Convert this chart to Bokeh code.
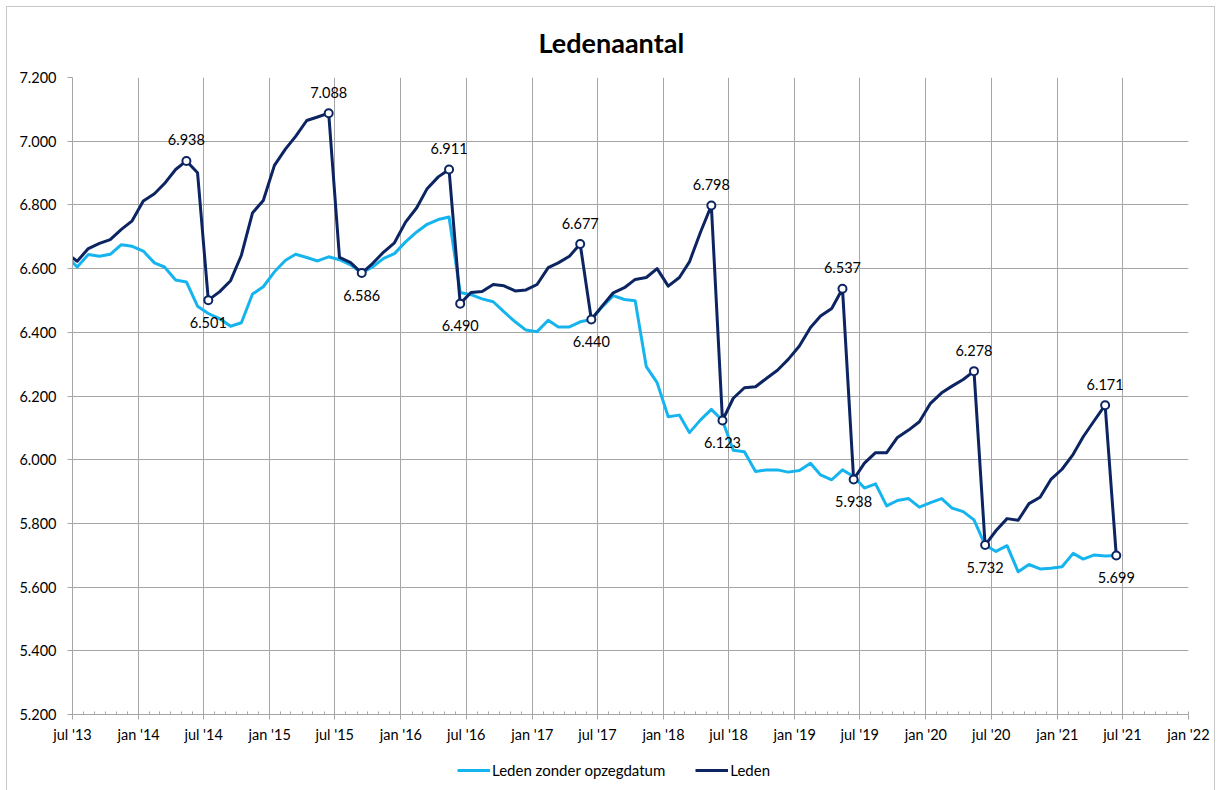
import pandas as pd
from bokeh.plotting import figure
from bokeh.layouts import column
from bokeh.models import ColumnDataSource, Range1d, FixedTicker, LabelSet, Legend, LegendItem
from bokeh.core.properties import value
from bokeh.embed import file_html
from bokeh.resources import INLINE

# ---- data (monthly, jun '13 .. jun '21) ----
leden = [6648, 6623, 6663, 6679, 6691, 6723, 6750, 6812, 6835, 6867, 6911, 6938, 6901,
         6501, 6527, 6562, 6642, 6775, 6814, 6924, 6976, 7015, 7065, 7076, 7088,
         6635, 6619, 6586, 6616, 6652, 6681, 6746, 6791, 6851, 6888, 6911,
         6490, 6525, 6528, 6550, 6546, 6530, 6533, 6550, 6603, 6618, 6639, 6677,
         6440, 6482, 6524, 6540, 6566, 6572, 6600, 6545, 6572, 6621, 6715, 6798,
         6123, 6193, 6226, 6229, 6255, 6281, 6315, 6357, 6415, 6451, 6475, 6537,
         5938, 5989, 6022, 6022, 6070, 6093, 6119, 6177, 6210, 6231, 6252, 6278,
         5732, 5777, 5815, 5810, 5862, 5882, 5938, 5970, 6017, 6072, 6123, 6171,
         5699]
zonder = [6640, 6605, 6644, 6639, 6645, 6675, 6670, 6655, 6618, 6605, 6564, 6558, 6482,
          6459, 6443, 6419, 6430, 6520, 6543, 6590, 6626, 6645, 6635, 6624, 6637,
          6628, 6612, 6586, 6605, 6632, 6647, 6684, 6715, 6739, 6754, 6762,
          6525, 6518, 6505, 6496, 6464, 6433, 6407, 6402, 6438, 6417, 6417, 6433,
          6440, 6480, 6515, 6503, 6499, 6292, 6242, 6135, 6140, 6085, 6125, 6158,
          6123, 6030, 6025, 5963, 5968, 5968, 5961, 5966, 5989, 5952, 5937, 5968,
          5947, 5911, 5924, 5855, 5872, 5878, 5851, 5865, 5878, 5848, 5837, 5811,
          5732, 5712, 5730, 5648, 5671, 5657, 5659, 5664, 5706, 5688, 5701, 5698,
          5699]
peak_idx = [11, 24, 35, 47, 59, 71, 83, 95]
trough_idx = [13, 27, 36, 48, 60, 72, 84, 96]

tick_months = ["2013-07", "2014-01", "2014-07", "2015-01", "2015-07", "2016-01", "2016-07",
               "2017-01", "2017-07", "2018-01", "2018-07", "2019-01", "2019-07", "2020-01",
               "2020-07", "2021-01", "2021-07", "2022-01"]
tick_labels = ["jul '13", "jan '14", "jul '14", "jan '15", "jul '15", "jan '16", "jul '16",
               "jan '17", "jul '17", "jan '18", "jul '18", "jan '19", "jul '19", "jan '20",
               "jul '20", "jan '21", "jul '21", "jan '22"]
y_ticks = [5200, 5400, 5600, 5800, 6000, 6200, 6400, 6600, 6800, 7000, 7200]

DARK = "#0c2461"
LIGHT = "#16b4ee"
GRID = "#a6a6a6"
FONT = "Lato"

dates = pd.date_range("2013-06-01", periods=len(leden), freq="MS") + pd.Timedelta(days=13)
src = ColumnDataSource(dict(x=dates, leden=leden, zonder=zonder))

def fmt(v):
    return f"{v:,}".replace(",", ".")

peaks = ColumnDataSource(dict(x=[dates[i] for i in peak_idx], y=[leden[i] for i in peak_idx],
                              t=[fmt(leden[i]) for i in peak_idx]))
troughs = ColumnDataSource(dict(x=[dates[i] for i in trough_idx], y=[leden[i] for i in trough_idx],
                                t=[fmt(leden[i]) for i in trough_idx]))

def ms(s):
    return float(pd.Timestamp(s).value // 10**6)

major = [ms(s) for s in tick_months]
minor = [ms(d) for d in pd.date_range("2013-07-01", "2022-01-01", freq="MS")]

p = figure(width=1207, height=738, x_axis_type="datetime", output_backend="svg",
           toolbar_location=None,
           x_range=Range1d(pd.Timestamp("2013-07-01"), pd.Timestamp("2022-01-01")),
           y_range=Range1d(5200, 7200),
           min_border_left=65, min_border_right=26, min_border_top=70, min_border_bottom=30)
p.outline_line_color = None
p.background_fill_color = "white"
p.border_fill_color = "white"

p.title.text = "Ledenaantal"
p.title.align = "left"
p.title.vertical_align = "top"
p.title.text_font = FONT
p.title.text_font_size = "27px"
p.title.text_font_style = "bold"
p.title.text_color = "black"
p.title.standoff = 33
p.title.offset = 466

# axes
p.xaxis.ticker = FixedTicker(ticks=major, minor_ticks=minor)
p.xaxis.major_label_overrides = {t: l for t, l in zip(major, tick_labels)}
p.yaxis.ticker = FixedTicker(ticks=y_ticks)
p.yaxis.major_label_overrides = {float(v): fmt(v) for v in y_ticks}
for ax in (p.xaxis, p.yaxis):
    ax.axis_line_color = GRID
    ax.major_tick_line_color = GRID
    ax.minor_tick_line_color = GRID
    ax.major_tick_in = 0
    ax.major_tick_out = 5
    ax.major_label_text_font = FONT
    ax.major_label_text_font_size = "14.5px"
    ax.major_label_text_color = "black"
p.xaxis.minor_tick_in = 3
p.xaxis.minor_tick_out = 0
p.yaxis.minor_tick_line_color = None
p.xaxis.major_label_standoff = 6
p.yaxis.major_label_standoff = 11
p.xgrid.grid_line_color = GRID
p.ygrid.grid_line_color = GRID

p.line("x", "zonder", source=src, color=LIGHT, line_width=3, line_join="round")
p.line("x", "leden", source=src, color=DARK, line_width=3, line_join="round")
p.scatter("x", "y", source=peaks, size=8, fill_color="white", line_color=DARK, line_width=2)
p.scatter("x", "y", source=troughs, size=8, fill_color="white", line_color=DARK, line_width=2)

for s, off in ((peaks, 21), (troughs, -22)):
    p.add_layout(LabelSet(x="x", y="y", text="t", source=s, y_offset=off,
                          text_align="center", text_baseline="middle",
                          text_font=value(FONT), text_font_size="14.5px", text_color="black"))

# legend strip below the chart (proxy lines lie outside its visible range)
lf = figure(width=1207, height=45, output_backend="svg", toolbar_location=None,
            x_axis_location=None, y_axis_location=None,
            x_range=Range1d(0, 1), y_range=Range1d(0, 1),
            min_border_left=0, min_border_right=0, min_border_top=0, min_border_bottom=0)
lf.outline_line_color = None
lf.xgrid.visible = False
lf.ygrid.visible = False
lf.border_fill_color = "white"
g1 = lf.line(x=[5, 6], y=[5, 5], color=LIGHT, line_width=3)
g2 = lf.line(x=[5, 6], y=[5, 5], color=DARK, line_width=3)
legend = Legend(items=[LegendItem(label="Leden zonder opzegdatum", renderers=[g1]),
                       LegendItem(label="Leden", renderers=[g2])],
                orientation="horizontal", location=(385, 10),
                glyph_width=33, label_standoff=2, spacing=30,
                padding=0, margin=0, border_line_color=None, background_fill_alpha=0,
                label_text_font=FONT, label_text_font_size="15px", label_text_color="black")
lf.add_layout(legend, "center")

lay = column(p, lf, spacing=0)
lay.styles = {"outline": "1px solid #c8c8c8", "margin-left": "7px", "margin-top": "7px"}

open("out.html", "w").write(file_html(lay, INLINE))
